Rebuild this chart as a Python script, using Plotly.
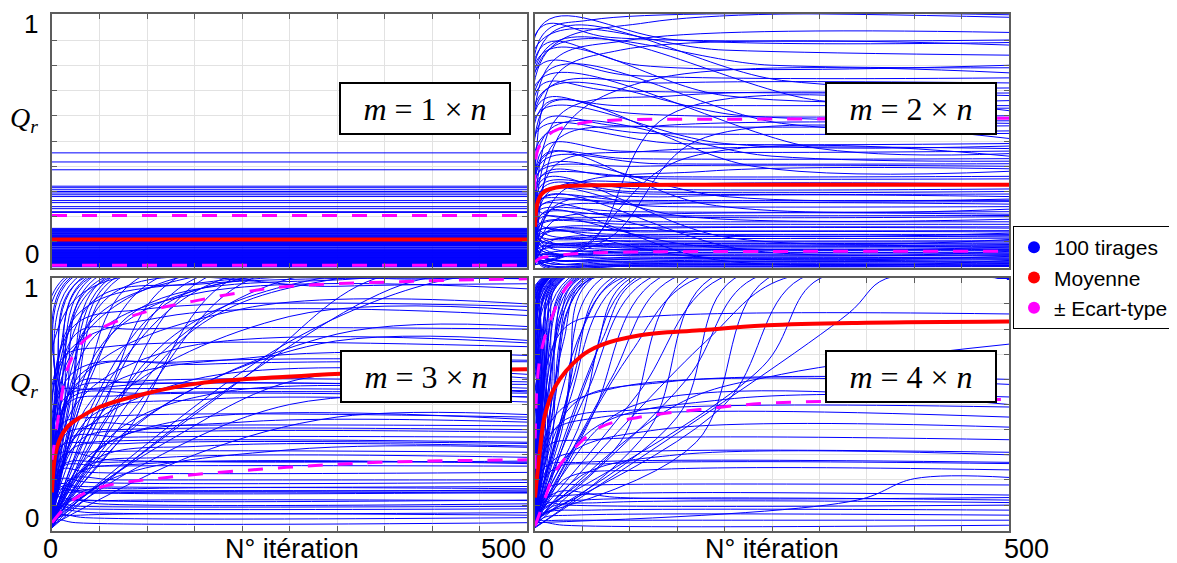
import plotly.graph_objects as go

W, H = 1177, 563
OFF = 8  # page body margin: the figure starts 8 px from the window corner

# ---------------- data ----------------
ITER_MAX = 500

# Panel 1 (m = 1 x n): flat final values of the 100 draws
p1_values = [0.453, 0.417, 0.386, 0.321, 0.315, 0.307, 0.300, 0.294, 0.287, 0.280,
             0.264, 0.256, 0.240, 0.232, 0.220, 0.217,
             0.154, 0.151, 0.149, 0.146, 0.144, 0.141, 0.139, 0.136, 0.133, 0.131,
             0.128, 0.126, 0.123, 0.121, 0.118, 0.116, 0.113, 0.111, 0.108, 0.106,
             0.104, 0.101, 0.099, 0.097, 0.094, 0.092, 0.090, 0.086, 0.084, 0.080,
             0.078, 0.073, 0.071, 0.068, 0.066, 0.063, 0.061, 0.058, 0.056, 0.054,
             0.051, 0.049, 0.047, 0.044, 0.042, 0.040, 0.037, 0.035, 0.033, 0.031,
             0.029, 0.027, 0.025, 0.023, 0.021, 0.019, 0.017, 0.015, 0.013, 0.012,
             0.010, 0.009, 0.008, 0.007, 0.006, 0.005, 0.004, 0.003, 0.002, 0.1025,
             0.0915, 0.0875, 0.0645, 0.0595, 0.0525, 0.0455, 0.0385, 0.0245, 0.0165, 0.0115,
             0.1345, 0.1195, 0.1095, 0.0995]
p1_mean = [0.11, 0.11]
p1_upper = [0.205, 0.205]
p1_lower = [0.008, 0.008]
p1_stat_iter = [0, 500]

# Panels 2-4: each draw as (start, iter_a, value_a, iter_b, value_b, value_at_500)
p2_curves = [
    (0.10, 12, 0.85, 120, 0.97, 1.00), (0.20, 8, 0.92, 60, 0.98, 0.99), (0.05, 15, 0.80, 100, 0.90, 0.93),
    (0.15, 6, 0.95, 80, 0.91, 0.90), (0.25, 10, 0.97, 150, 0.90, 0.89), (0.12, 20, 0.75, 90, 0.86, 0.88),
    (0.08, 7, 0.90, 200, 0.86, 0.84), (0.18, 9, 0.88, 110, 0.80, 0.80), (0.22, 14, 0.86, 250, 0.80, 0.79),
    (0.02, 30, 0.55, 120, 0.74, 0.77), (0.16, 5, 0.80, 100, 0.76, 0.75), (0.06, 11, 0.70, 140, 0.73, 0.73),
    (0.10, 18, 0.93, 260, 0.74, 0.71), (0.30, 6, 0.72, 80, 0.70, 0.69), (0.04, 25, 0.60, 150, 0.68, 0.68),
    (0.14, 9, 0.85, 200, 0.68, 0.66), (0.20, 12, 0.64, 90, 0.64, 0.64), (0.07, 16, 0.88, 300, 0.66, 0.63),
    (0.01, 60, 0.10, 140, 0.60, 0.62), (0.24, 7, 0.66, 100, 0.61, 0.60), (0.11, 10, 0.70, 220, 0.60, 0.58),
    (0.03, 22, 0.50, 130, 0.56, 0.57), (0.17, 8, 0.58, 90, 0.56, 0.56), (0.09, 14, 0.78, 260, 0.57, 0.54),
    (0.26, 5, 0.55, 120, 0.53, 0.53), (0.02, 80, 0.12, 170, 0.50, 0.51), (0.13, 9, 0.52, 150, 0.49, 0.49),
    (0.21, 6, 0.62, 200, 0.49, 0.48), (0.05, 20, 0.40, 120, 0.46, 0.47), (0.15, 11, 0.48, 90, 0.46, 0.46),
    (0.28, 7, 0.75, 300, 0.47, 0.45), (0.01, 50, 0.08, 150, 0.42, 0.44), (0.19, 10, 0.44, 100, 0.43, 0.43),
    (0.08, 17, 0.55, 250, 0.44, 0.42), (0.12, 8, 0.42, 130, 0.41, 0.41), (0.23, 5, 0.38, 110, 0.40, 0.40),
    (0.04, 28, 0.30, 180, 0.38, 0.39), (0.16, 12, 0.65, 230, 0.40, 0.38), (0.10, 9, 0.37, 90, 0.36, 0.36),
    (0.27, 6, 0.36, 140, 0.35, 0.35), (0.06, 15, 0.30, 160, 0.33, 0.33), (0.18, 8, 0.33, 110, 0.31, 0.31),
    (0.09, 10, 0.32, 100, 0.30, 0.30), (0.22, 6, 0.30, 120, 0.29, 0.29), (0.03, 20, 0.24, 150, 0.28, 0.28),
    (0.14, 9, 0.40, 200, 0.28, 0.27), (0.11, 7, 0.27, 100, 0.265, 0.265), (0.25, 5, 0.27, 90, 0.26, 0.26),
    (0.05, 14, 0.22, 120, 0.25, 0.25), (0.17, 8, 0.25, 140, 0.24, 0.24), (0.08, 11, 0.45, 180, 0.25, 0.23),
    (0.20, 6, 0.23, 100, 0.22, 0.22), (0.02, 18, 0.18, 130, 0.21, 0.21), (0.13, 7, 0.21, 90, 0.205, 0.205),
    (0.29, 5, 0.22, 120, 0.20, 0.20), (0.06, 10, 0.30, 160, 0.20, 0.19), (0.15, 8, 0.18, 110, 0.18, 0.18),
    (0.10, 6, 0.17, 100, 0.17, 0.17), (0.21, 9, 0.16, 150, 0.16, 0.16), (0.04, 12, 0.14, 130, 0.155, 0.155),
    (0.12, 6, 0.15, 100, 0.145, 0.145), (0.03, 10, 0.13, 120, 0.14, 0.14), (0.18, 8, 0.25, 150, 0.14, 0.135),
    (0.07, 5, 0.13, 90, 0.13, 0.13), (0.24, 7, 0.14, 110, 0.125, 0.125), (0.01, 15, 0.10, 140, 0.12, 0.12),
    (0.15, 6, 0.12, 100, 0.115, 0.115), (0.09, 9, 0.35, 200, 0.12, 0.11), (0.20, 5, 0.11, 90, 0.105, 0.105),
    (0.05, 8, 0.10, 120, 0.10, 0.10), (0.13, 7, 0.10, 100, 0.095, 0.095), (0.27, 6, 0.12, 130, 0.09, 0.09),
    (0.02, 12, 0.08, 110, 0.087, 0.087), (0.11, 5, 0.09, 90, 0.083, 0.083), (0.16, 8, 0.20, 170, 0.085, 0.08),
    (0.06, 6, 0.08, 100, 0.077, 0.077), (0.22, 9, 0.09, 120, 0.073, 0.073), (0.04, 7, 0.07, 90, 0.07, 0.07),
    (0.14, 5, 0.07, 110, 0.066, 0.066), (0.08, 10, 0.28, 220, 0.07, 0.063), (0.19, 6, 0.07, 100, 0.06, 0.06),
    (0.01, 8, 0.05, 120, 0.056, 0.056), (0.10, 5, 0.06, 90, 0.053, 0.053), (0.25, 7, 0.08, 130, 0.05, 0.05),
    (0.05, 9, 0.05, 100, 0.046, 0.046), (0.12, 6, 0.15, 160, 0.045, 0.043), (0.17, 5, 0.05, 110, 0.04, 0.04),
    (0.03, 8, 0.04, 90, 0.036, 0.036), (0.09, 7, 0.04, 120, 0.033, 0.033), (0.21, 6, 0.05, 100, 0.03, 0.03),
    (0.06, 10, 0.22, 190, 0.03, 0.027), (0.14, 5, 0.03, 90, 0.024, 0.024), (0.02, 7, 0.025, 110, 0.021, 0.021),
    (0.11, 6, 0.03, 100, 0.018, 0.018), (0.18, 8, 0.04, 130, 0.015, 0.015), (0.07, 5, 0.015, 90, 0.012, 0.012),
    (0.04, 9, 0.012, 120, 0.009, 0.009), (0.13, 6, 0.02, 100, 0.007, 0.007), (0.08, 7, 0.01, 110, 0.005, 0.005),
    (0.16, 5, 0.01, 90, 0.003, 0.003),
]
p2_stat_iter = [0, 1, 3, 6, 10, 16, 30, 69, 200, 500]
p2_mean = [0.16, 0.22, 0.26, 0.285, 0.30, 0.31, 0.32, 0.325, 0.327, 0.327]
p2_upper_iter = [0, 3, 16, 48, 87, 200, 500]
p2_upper = [0.307, 0.465, 0.53, 0.57, 0.583, 0.586, 0.59]
p2_lower_iter = [0, 5, 16, 48, 100, 500]
p2_lower = [0.02, 0.035, 0.043, 0.055, 0.06, 0.063]

p3_curves = [
    (0.05, 3, 0.30, 12, 1.0, 1.0), (0.02, 4, 0.25, 15, 1.0, 1.0), (0.08, 5, 0.45, 20, 1.0, 1.0),
    (0.03, 6, 0.35, 25, 1.0, 1.0), (0.10, 4, 0.50, 18, 1.0, 1.0), (0.01, 8, 0.40, 30, 1.0, 1.0),
    (0.06, 10, 0.55, 35, 1.0, 1.0), (0.04, 5, 0.60, 28, 0.99, 1.0), (0.07, 12, 0.45, 40, 1.0, 1.0),
    (0.02, 15, 0.50, 45, 1.0, 1.0), (0.09, 8, 0.70, 38, 1.0, 1.0), (0.03, 20, 0.55, 55, 1.0, 1.0),
    (0.05, 6, 0.80, 50, 0.98, 1.0), (0.01, 18, 0.40, 60, 1.0, 1.0), (0.06, 10, 0.65, 48, 0.99, 1.0),
    (0.04, 25, 0.60, 65, 1.0, 1.0), (0.08, 14, 0.75, 58, 1.0, 1.0), (0.02, 22, 0.45, 70, 1.0, 1.0),
    (0.05, 30, 0.50, 90, 1.0, 1.0), (0.03, 40, 0.60, 110, 1.0, 1.0), (0.07, 20, 0.70, 120, 0.99, 1.0),
    (0.02, 50, 0.45, 130, 1.0, 1.0), (0.06, 35, 0.80, 140, 1.0, 1.0), (0.04, 60, 0.55, 150, 1.0, 1.0),
    (0.01, 45, 0.30, 160, 1.0, 1.0), (0.09, 25, 0.85, 170, 0.99, 1.0), (0.03, 70, 0.65, 180, 1.0, 1.0),
    (0.05, 80, 0.40, 190, 1.0, 1.0), (0.02, 55, 0.75, 200, 1.0, 1.0), (0.07, 40, 0.90, 160, 0.98, 1.0),
    (0.04, 90, 0.50, 210, 1.0, 1.0), (0.03, 100, 0.65, 250, 1.0, 1.0), (0.05, 120, 0.75, 280, 1.0, 1.0),
    (0.02, 150, 0.80, 300, 1.0, 1.0), (0.06, 80, 0.85, 320, 1.0, 1.0), (0.04, 200, 0.60, 340, 1.0, 1.0),
    (0.01, 180, 0.55, 380, 0.99, 1.0), (0.08, 120, 0.90, 400, 1.0, 1.0), (0.03, 250, 0.75, 420, 1.0, 1.0),
    (0.05, 60, 0.93, 300, 0.97, 0.98),
    (0.04, 40, 0.75, 150, 0.94, 0.96), (0.02, 30, 0.60, 200, 0.88, 0.90), (0.06, 20, 0.80, 100, 0.88, 0.89),
    (0.03, 60, 0.50, 250, 0.85, 0.874), (0.05, 15, 0.70, 120, 0.85, 0.854), (0.01, 80, 0.40, 300, 0.78, 0.81),
    (0.07, 25, 0.78, 90, 0.80, 0.80), (0.02, 100, 0.45, 280, 0.74, 0.755), (0.04, 10, 0.68, 60, 0.73, 0.73),
    (0.06, 50, 0.55, 220, 0.69, 0.695), (0.03, 30, 0.62, 140, 0.67, 0.676), (0.05, 120, 0.35, 260, 0.60, 0.605),
    (0.02, 20, 0.55, 80, 0.59, 0.59), (0.08, 12, 0.52, 60, 0.57, 0.565), (0.04, 70, 0.40, 180, 0.55, 0.55),
    (0.01, 16, 0.50, 70, 0.535, 0.53), (0.06, 40, 0.45, 160, 0.52, 0.51), (0.03, 8, 0.55, 40, 0.56, 0.555),
    (0.05, 25, 0.58, 90, 0.585, 0.58), (0.02, 150, 0.30, 300, 0.45, 0.46), (0.07, 10, 0.42, 50, 0.45, 0.45),
    (0.04, 60, 0.35, 200, 0.43, 0.43), (0.03, 14, 0.38, 70, 0.40, 0.40), (0.06, 30, 0.36, 120, 0.39, 0.39),
    (0.02, 8, 0.33, 40, 0.35, 0.35), (0.05, 20, 0.32, 80, 0.345, 0.345), (0.01, 45, 0.28, 160, 0.335, 0.335),
    (0.08, 6, 0.30, 30, 0.31, 0.31), (0.03, 35, 0.25, 120, 0.29, 0.29), (0.05, 12, 0.26, 60, 0.27, 0.27),
    (0.02, 25, 0.22, 100, 0.265, 0.265), (0.04, 9, 0.24, 40, 0.23, 0.23), (0.06, 18, 0.20, 70, 0.20, 0.20),
    (0.03, 5, 0.18, 30, 0.174, 0.174), (0.01, 30, 0.15, 90, 0.165, 0.165), (0.05, 7, 0.16, 35, 0.15, 0.15),
    (0.02, 12, 0.14, 50, 0.148, 0.148), (0.07, 4, 0.13, 25, 0.12, 0.12), (0.04, 15, 0.11, 60, 0.118, 0.118),
    (0.03, 6, 0.10, 30, 0.095, 0.095), (0.06, 10, 0.08, 40, 0.07, 0.07), (0.02, 8, 0.06, 35, 0.05, 0.05),
    (0.01, 5, 0.04, 25, 0.03, 0.03), (0.09, 20, 0.35, 150, 0.60, 0.62), (0.04, 12, 0.30, 60, 0.28, 0.275),
    (0.03, 18, 0.52, 100, 0.545, 0.545), (0.05, 7, 0.20, 40, 0.19, 0.19), (0.02, 30, 0.40, 110, 0.415, 0.415),
    (0.06, 9, 0.15, 45, 0.155, 0.155), (0.01, 60, 0.20, 250, 0.32, 0.33), (0.04, 5, 0.09, 30, 0.085, 0.085),
    (0.03, 14, 0.12, 50, 0.105, 0.105), (0.08, 25, 0.50, 130, 0.72, 0.745), (0.02, 10, 0.25, 55, 0.255, 0.255),
    (0.05, 40, 0.30, 140, 0.44, 0.44), (0.01, 6, 0.05, 30, 0.06, 0.06), (0.07, 16, 0.36, 80, 0.37, 0.37),
    (0.03, 90, 0.25, 250, 0.50, 0.53), (0.04, 8, 0.17, 40, 0.16, 0.16), (0.06, 20, 0.62, 160, 0.66, 0.67),
]
p3_stat_iter = [0, 3, 8, 16, 30, 50, 100, 156, 247, 350, 500]
p3_mean = [0.15, 0.29, 0.36, 0.41, 0.45, 0.49, 0.545, 0.585, 0.61, 0.63, 0.64]
p3_upper_iter = [0, 8, 16, 29, 50, 100, 148, 198, 250, 380, 500]
p3_upper = [0.28, 0.48, 0.64, 0.735, 0.80, 0.87, 0.91, 0.945, 0.97, 0.99, 1.0]
p3_lower_iter = [0, 22, 50, 121, 247, 344, 500]
p3_lower = [0.03, 0.12, 0.17, 0.21, 0.25, 0.27, 0.28]

p4_curves = [
    (0.02, 2, 0.40, 6, 1.0, 1.0), (0.05, 2, 0.30, 7, 1.0, 1.0), (0.01, 3, 0.45, 8, 1.0, 1.0),
    (0.08, 3, 0.50, 9, 1.0, 1.0), (0.03, 3, 0.35, 10, 1.0, 1.0), (0.06, 4, 0.55, 10, 1.0, 1.0),
    (0.02, 4, 0.40, 11, 1.0, 1.0), (0.04, 4, 0.60, 12, 1.0, 1.0), (0.10, 5, 0.50, 12, 1.0, 1.0),
    (0.01, 5, 0.45, 13, 1.0, 1.0), (0.07, 5, 0.65, 13, 1.0, 1.0), (0.03, 6, 0.55, 14, 1.0, 1.0),
    (0.05, 6, 0.70, 14, 1.0, 1.0), (0.02, 6, 0.50, 15, 1.0, 1.0), (0.09, 4, 0.75, 11, 1.0, 1.0),
    (0.04, 7, 0.60, 15, 1.0, 1.0), (0.06, 3, 0.65, 9, 1.0, 1.0), (0.01, 7, 0.55, 15, 1.0, 1.0),
    (0.03, 2, 0.25, 8, 1.0, 1.0), (0.08, 5, 0.80, 13, 1.0, 1.0), (0.05, 8, 0.70, 15, 1.0, 1.0),
    (0.02, 4, 0.35, 12, 1.0, 1.0),
    (0.04, 6, 0.40, 17, 1.0, 1.0), (0.02, 8, 0.50, 18, 1.0, 1.0), (0.07, 5, 0.45, 19, 1.0, 1.0),
    (0.03, 10, 0.60, 20, 1.0, 1.0), (0.05, 7, 0.35, 21, 1.0, 1.0), (0.01, 9, 0.55, 22, 1.0, 1.0),
    (0.06, 12, 0.70, 23, 1.0, 1.0), (0.03, 8, 0.30, 24, 1.0, 1.0), (0.09, 10, 0.65, 25, 1.0, 1.0),
    (0.02, 14, 0.75, 26, 1.0, 1.0), (0.04, 6, 0.25, 27, 1.0, 1.0), (0.06, 11, 0.50, 28, 1.0, 1.0),
    (0.01, 15, 0.80, 29, 1.0, 1.0), (0.05, 9, 0.40, 30, 1.0, 1.0), (0.03, 13, 0.60, 30, 1.0, 1.0),
    (0.08, 7, 0.55, 22, 1.0, 1.0),
    (0.02, 10, 0.35, 35, 1.0, 1.0), (0.05, 15, 0.55, 38, 1.0, 1.0), (0.03, 12, 0.25, 40, 1.0, 1.0),
    (0.07, 20, 0.70, 42, 1.0, 1.0), (0.01, 18, 0.45, 45, 1.0, 1.0), (0.04, 25, 0.80, 47, 1.0, 1.0),
    (0.06, 14, 0.40, 50, 1.0, 1.0), (0.02, 22, 0.60, 52, 1.0, 1.0), (0.05, 30, 0.75, 55, 1.0, 1.0),
    (0.03, 16, 0.30, 57, 1.0, 1.0), (0.08, 28, 0.85, 60, 1.0, 1.0), (0.01, 20, 0.50, 58, 1.0, 1.0),
    (0.04, 12, 0.65, 44, 1.0, 1.0), (0.06, 35, 0.55, 60, 1.0, 1.0),
    (0.03, 30, 0.45, 70, 1.0, 1.0), (0.05, 40, 0.60, 80, 1.0, 1.0), (0.02, 25, 0.35, 85, 1.0, 1.0),
    (0.07, 50, 0.80, 90, 1.0, 1.0), (0.04, 35, 0.50, 95, 1.0, 1.0), (0.01, 60, 0.65, 100, 1.0, 1.0),
    (0.06, 45, 0.40, 105, 1.0, 1.0), (0.03, 70, 0.75, 110, 1.0, 1.0), (0.05, 55, 0.55, 120, 1.0, 1.0),
    (0.02, 60, 0.45, 130, 1.0, 1.0), (0.04, 80, 0.60, 145, 1.0, 1.0), (0.06, 90, 0.35, 160, 1.0, 1.0),
    (0.03, 100, 0.70, 170, 1.0, 1.0), (0.01, 120, 0.40, 185, 1.0, 1.0), (0.05, 110, 0.55, 195, 1.0, 1.0),
    (0.04, 150, 0.45, 210, 1.0, 1.0), (0.02, 160, 0.60, 230, 1.0, 1.0), (0.06, 170, 0.35, 245, 1.0, 1.0),
    (0.03, 180, 0.75, 262, 1.0, 1.0), (0.05, 200, 0.50, 280, 1.0, 1.0), (0.01, 330, 0.86, 370, 1.0, 1.0),
    (0.07, 240, 0.65, 300, 1.0, 1.0),
    (0.05, 30, 0.80, 120, 0.85, 0.86), (0.03, 150, 0.50, 260, 0.62, 0.74), (0.06, 40, 0.50, 140, 0.59, 0.60),
    (0.02, 20, 0.45, 90, 0.57, 0.58), (0.04, 60, 0.40, 200, 0.52, 0.53), (0.07, 25, 0.42, 110, 0.48, 0.49),
    (0.01, 15, 0.38, 70, 0.45, 0.45), (0.05, 35, 0.30, 130, 0.40, 0.41), (0.03, 12, 0.33, 60, 0.36, 0.36),
    (0.06, 20, 0.28, 90, 0.31, 0.31), (0.02, 50, 0.22, 150, 0.30, 0.30), (0.04, 10, 0.25, 50, 0.27, 0.27),
    (0.08, 18, 0.24, 80, 0.265, 0.265), (0.01, 30, 0.20, 120, 0.24, 0.24), (0.03, 340, 0.12, 400, 0.205, 0.21),
    (0.05, 14, 0.17, 60, 0.18, 0.18), (0.02, 8, 0.12, 40, 0.14, 0.14), (0.06, 22, 0.15, 90, 0.13, 0.13),
    (0.04, 10, 0.10, 50, 0.12, 0.12), (0.01, 16, 0.09, 70, 0.11, 0.11), (0.07, 6, 0.11, 35, 0.10, 0.10),
    (0.03, 12, 0.07, 60, 0.08, 0.08), (0.02, 9, 0.05, 40, 0.06, 0.06), (0.05, 5, 0.04, 30, 0.04, 0.04),
    (0.01, 7, 0.03, 30, 0.02, 0.02), (0.04, 25, 0.20, 100, 0.49, 0.50),
]
p4_stat_iter = [0, 5, 10, 21, 48, 69, 111, 174, 245, 350, 500]
p4_mean = [0.13, 0.31, 0.45, 0.57, 0.69, 0.735, 0.775, 0.795, 0.815, 0.825, 0.83]
p4_upper_iter = [0, 5, 19, 34, 60, 100, 500]
p4_upper = [0.245, 0.68, 0.86, 0.97, 1.05, 1.1, 1.14]
p4_lower_iter = [0, 10, 21, 40, 69, 111, 174, 245, 500]
p4_lower = [0.016, 0.12, 0.23, 0.32, 0.41, 0.45, 0.48, 0.505, 0.52]

panel_labels = ["1", "2", "3", "4"]
legend_names = ["100 tirages", "Moyenne", "± Ecart-type"]

# ---------------- styling ----------------
BLUE, RED, MAGENTA = "#0000FF", "#FF0000", "#FF00FF"
SERIF = "Liberation Serif, DejaVu Serif, serif"
SANS = "Liberation Sans, Arial, sans-serif"
FW, FH = W - OFF, H - OFF


def px_x(p):
    return (p - OFF) / FW


def px_y(p):
    return 1 - (p - OFF) / FH


x_dom = {"L": [px_x(52), px_x(527)], "R": [px_x(535), px_x(1009)]}
y_dom = {"T": [px_y(268), px_y(14)], "B": [px_y(531), px_y(278)]}
panels = [("x", "y", "L", "T"), ("x2", "y2", "R", "T"), ("x3", "y3", "L", "B"), ("x4", "y4", "R", "B")]

fig = go.Figure()


def spaghetti(curves):
    xs, ys = [], []
    for (y0, ta, ya, tb, yb, yf) in curves:
        xs += [0, ta, tb, ITER_MAX, None]
        ys += [y0, ya, yb, yf, None]
    return xs, ys


# panel 1: flat lines
xs1, ys1 = [], []
for v in p1_values:
    xs1 += [0, ITER_MAX, None]
    ys1 += [v, v, None]

blue_sets = [(xs1, ys1, "linear")] + [(*spaghetti(c), "spline") for c in (p2_curves, p3_curves, p4_curves)]
stats = [
    (p1_stat_iter, p1_mean, p1_stat_iter, p1_upper, p1_stat_iter, p1_lower),
    (p2_stat_iter, p2_mean, p2_upper_iter, p2_upper, p2_lower_iter, p2_lower),
    (p3_stat_iter, p3_mean, p3_upper_iter, p3_upper, p3_lower_iter, p3_lower),
    (p4_stat_iter, p4_mean, p4_upper_iter, p4_upper, p4_lower_iter, p4_lower),
]

for (xa, ya, _, _), (bx, by, shape), st in zip(panels, blue_sets, stats):
    fig.add_trace(go.Scatter(x=bx, y=by, mode="lines", xaxis=xa, yaxis=ya, showlegend=False,
                             line=dict(color=BLUE, width=1, shape=shape), hoverinfo="skip"))
    mi, mv, ui, uv, li, lv = st
    fig.add_trace(go.Scatter(x=mi, y=mv, mode="lines", xaxis=xa, yaxis=ya, showlegend=False,
                             line=dict(color=RED, width=4, shape="spline"), hoverinfo="skip"))
    for ii, vv in ((ui, uv), (li, lv)):
        fig.add_trace(go.Scatter(x=ii, y=vv, mode="lines", xaxis=xa, yaxis=ya, showlegend=False,
                                 line=dict(color=MAGENTA, width=3, dash="15px,15px", shape="spline"),
                                 hoverinfo="skip"))

# legend entries
for name, col in zip(legend_names, (BLUE, RED, MAGENTA)):
    fig.add_trace(go.Scatter(x=[None], y=[None], mode="markers", name=name,
                             marker=dict(color=col, size=13, symbol="circle")))

axis_common = dict(showgrid=True, gridcolor="#e2e2e2", gridwidth=1, zeroline=False,
                   showline=True, linecolor="#5c5c5c", linewidth=1.5, mirror="ticks",
                   ticks="inside", ticklen=5, tickcolor="#5c5c5c", tickwidth=1,
                   showticklabels=False, fixedrange=True)

layout_axes = {}
for i, (xa, ya, xd, yd) in enumerate(panels):
    suffix = "" if i == 0 else str(i + 1)
    layout_axes["xaxis" + suffix] = dict(axis_common, domain=x_dom[xd], range=[0, ITER_MAX],
                                         tick0=0, dtick=50, anchor=ya)
    layout_axes["yaxis" + suffix] = dict(axis_common, domain=y_dom[yd], range=[-0.003, 1.003],
                                         tick0=0, dtick=0.1, anchor=xa)

annotations = []


def txt(x, y, text, size, family=SANS, **kw):
    annotations.append(dict(x=px_x(x), y=px_y(y), xref="paper", yref="paper", text=text,
                            showarrow=False, xanchor="center", yanchor="middle",
                            font=dict(size=size, family=family, color="black"), **kw))


# y-axis labels (left)
for top in (0, 264):
    txt(31, 24 + top, "1", 26)
    txt(24, 120 + top, "<i>Q</i><sub><i>r</i></sub>", 28, SERIF)
    txt(32, 254 + top, "0", 26)

# x-axis labels
for (x0, xm, x5) in ((50, 292, 503), (546, 772, 1026)):
    txt(x0, 549, "0", 27)
    txt(xm, 549, "N° itération", 27)
    txt(x5, 549, "500", 27)

# panel boxes "m = k x n"
box_centres = [(425, 108.5), (910.5, 108.5), (425.5, 376), (910.5, 376)]
for k, (cx, cy) in zip(panel_labels, box_centres):
    annotations.append(dict(x=px_x(cx), y=px_y(cy), xref="paper", yref="paper",
                            text=f"<i>m</i> = {k} × <i>n</i>", showarrow=False,
                            xanchor="center", yanchor="middle", width=168, height=49,
                            bgcolor="white", bordercolor="black", borderwidth=2, borderpad=0,
                            font=dict(size=32, family=SERIF, color="black")))

fig.update_layout(
    width=FW, height=FH, margin=dict(l=0, r=0, t=0, b=0),
    paper_bgcolor="white", plot_bgcolor="white",
    showlegend=True,
    legend=dict(x=px_x(1013), y=px_y(226), xanchor="left", yanchor="top",
                bordercolor="black", borderwidth=1, bgcolor="white",
                font=dict(size=21, family=SANS, color="black"), tracegroupgap=0,
                itemsizing="constant"),
    annotations=annotations,
    hovermode=False,
    **layout_axes,
)

fig.write_html("out.html")
